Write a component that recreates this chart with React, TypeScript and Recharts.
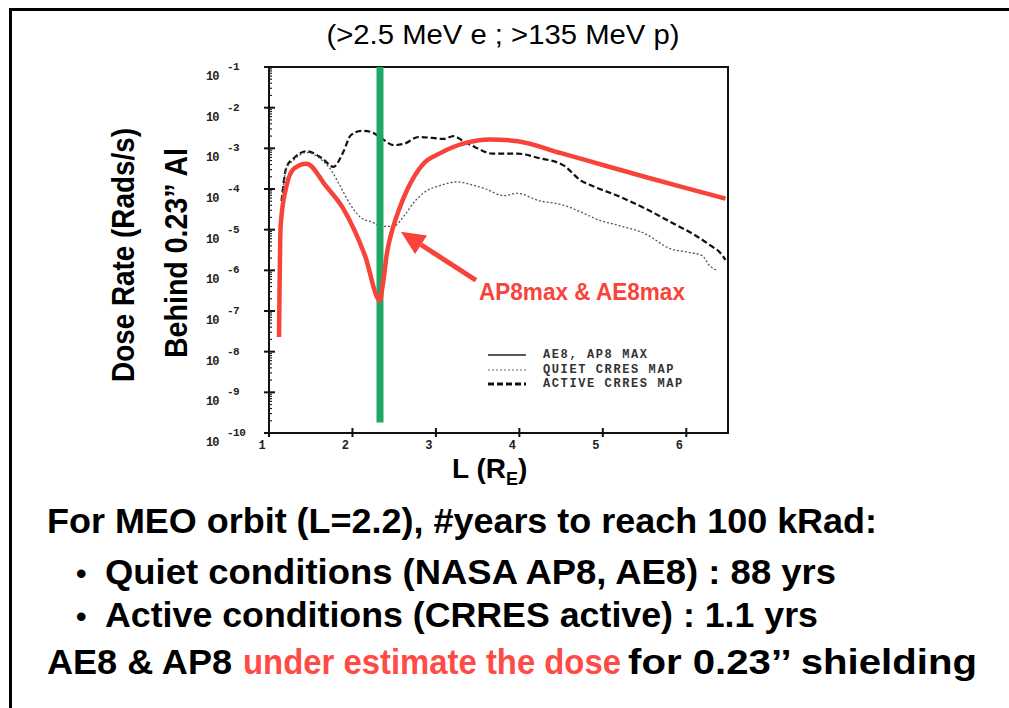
import React from "react"
import { LineChart, Line, XAxis, YAxis, ReferenceLine, ReferenceArea, Legend } from "recharts"

// L shell (Earth radii) vs dose rate (rads/s) behind 0.23" Al
const modelL = [1.12, 1.14, 1.21, 1.3, 1.45, 1.68, 1.89, 2.15, 2.33, 2.36, 2.42, 2.47, 2.56, 2.66, 2.85, 3.04, 3.38, 3.64, 3.98, 4.5, 5.0, 5.5, 6.0, 6.47]
const modelDose = [2.3e-8, 1.3e-5, 1.2e-4, 3.2e-4, 4.2e-4, 1.2e-4, 3.3e-5, 2.3e-6, 1.8e-7, 4e-7, 3.2e-6, 8.7e-6, 3.2e-5, 1.0e-4, 4.2e-4, 7.4e-4, 1.4e-3, 1.66e-3, 1.5e-3, 7.6e-4, 3.9e-4, 2.0e-4, 1.05e-4, 5.8e-5]

const activeL = [1.15, 1.21, 1.3, 1.45, 1.64, 1.77, 1.89, 1.98, 2.11, 2.23, 2.36, 2.49, 2.62, 2.79, 2.96, 3.09, 3.21, 3.34, 3.47, 3.68, 3.98, 4.23, 4.53, 4.74, 4.87, 5.17, 5.51, 5.81, 6.11, 6.32, 6.4, 6.47]
const activeDose = [5e-5, 3.5e-4, 5.8e-4, 8.5e-4, 5.6e-4, 3.5e-4, 8.1e-4, 2.1e-3, 2.7e-3, 2.5e-3, 1.7e-3, 1.2e-3, 1.3e-3, 1.9e-3, 1.8e-3, 1.7e-3, 2.0e-3, 1.45e-3, 1.07e-3, 7.4e-4, 7.4e-4, 5.8e-4, 3.8e-4, 1.6e-4, 1.2e-4, 6.9e-5, 3.3e-5, 1.55e-5, 7.2e-6, 3.7e-6, 2.8e-6, 1.8e-6]

const quietL = [1.15, 1.21, 1.3, 1.45, 1.64, 1.75, 1.85, 1.98, 2.11, 2.23, 2.36, 2.49, 2.62, 2.74, 2.87, 3.04, 3.26, 3.38, 3.6, 3.81, 3.98, 4.23, 4.53, 4.74, 4.96, 5.17, 5.51, 5.81, 6.02, 6.19, 6.28, 6.37]
const quietDose = [5e-5, 3.2e-4, 5.2e-4, 7.9e-4, 5e-4, 2.8e-4, 1.2e-4, 4e-5, 1.9e-5, 1.55e-5, 1.2e-5, 1.2e-5, 2.2e-5, 4.8e-5, 8.5e-5, 1.2e-4, 1.5e-4, 1.35e-4, 1.0e-4, 6.9e-5, 7.8e-5, 5.2e-5, 4e-5, 2.7e-5, 1.7e-5, 1.3e-5, 7.9e-6, 3.4e-6, 2.8e-6, 2.3e-6, 1.3e-6, 1e-6]

const xTicks = [1, 2, 3, 4, 5, 6]
const yTicks = [1e-10, 1e-9, 1e-8, 1e-7, 1e-6, 1e-5, 1e-4, 1e-3, 1e-2, 1e-1]
const minorSteps = [2, 3, 4, 5, 6, 7, 8, 9]
const legendNames = ["AE8, AP8 MAX", "QUIET CRRES MAP", "ACTIVE CRRES MAP"]

// MEO marker and arrow annotation (L, dose)
const meoL = 2.33
const meoRange = [1e-1, 1.8e-10]
const arrowTail = { L: 3.48, dose: 5.7e-7 }
const arrowTip = { L: 2.58, dose: 8.9e-6 }

const toRows = (ls: number[], ds: number[]) => ls.map((l, i) => ({ L: l, dose: ds[i] }))
const modelData = toRows(modelL, modelDose)
const activeData = toRows(activeL, activeDose)
const quietData = toRows(quietL, quietDose)

// decade ticks plus log minor ticks
const allYTicks = [
  ...yTicks,
  ...yTicks.slice(0, -1).flatMap((d) => minorSteps.map((m) => m * d)),
]

const RED = "#f8433a"
const GREEN = "#1fa865"
const SANS = "'Liberation Sans', Arial, Helvetica, sans-serif"
const MONO = "'Liberation Mono', 'DejaVu Sans Mono', monospace"

const isDecade = (v: number) => Math.abs(Math.log10(v) - Math.round(Math.log10(v))) < 1e-6

const YTick = (props: any) => {
  const { x, y, payload } = props
  if (!isDecade(payload.value)) {
    return <line x1={x} x2={x + 3} y1={y} y2={y} stroke="#222" strokeWidth={1.2} />
  }
  const exp = Math.round(Math.log10(payload.value))
  return (
    <g>
      <line x1={x - 5} x2={x + 6} y1={y} y2={y} stroke="#111" strokeWidth={2} />
      <text x={x - 63} y={y + 13} fontFamily={MONO} fontSize={12} fontWeight="bold" fill="#222" letterSpacing={-1}>10</text>
      <text x={x - 42} y={y + 3} fontFamily={MONO} fontSize={11} fontWeight="bold" fill="#222" letterSpacing={-0.5}>{exp}</text>
    </g>
  )
}

const RightTick = (props: any) => {
  const { x, y, payload } = props
  const len = isDecade(payload.value) ? 6 : 3
  return <line x1={x - len} x2={x} y1={y} y2={y} stroke="#222" strokeWidth={isDecade(payload.value) ? 2 : 1.2} />
}

const XTick = (props: any) => {
  const { x, y, payload } = props
  return (
    <g>
      <line x1={x} x2={x} y1={y - 5} y2={y + 4} stroke="#111" strokeWidth={2} />
      <text x={x - 7} y={y + 16} textAnchor="middle" fontFamily={MONO} fontSize={12} fontWeight="bold" fill="#222">
        {payload.value}
      </text>
    </g>
  )
}

const TopTick = (props: any) => {
  const { x, y } = props
  return <line x1={x} x2={x} y1={y} y2={y + 6} stroke="#222" strokeWidth={2} />
}

const Arrow = (props: any) => {
  const { x1, y1, x2, y2 } = props
  const ang = Math.atan2(y2 - y1, x2 - x1)
  const head = 24
  const half = 11
  const bx = x2 - head * Math.cos(ang)
  const by = y2 - head * Math.sin(ang)
  const px = -Math.sin(ang) * half
  const py = Math.cos(ang) * half
  return (
    <g>
      <line x1={x1} y1={y1} x2={bx} y2={by} stroke={RED} strokeWidth={5} />
      <polygon points={`${x2},${y2} ${bx + px},${by + py} ${bx - px},${by - py}`} fill={RED} />
      <text x={x1 + 3} y={y1 + 20} fontFamily={SANS} fontWeight="bold" fontSize={23} fill={RED}
        textLength={206} lengthAdjust="spacingAndGlyphs">
        AP8max &amp; AE8max
      </text>
    </g>
  )
}

const renderLegend = () => {
  const styles = [
    { dash: undefined, w: 1.5, c: "#222" },
    { dash: "2 2", w: 1.2, c: "#666" },
    { dash: "6 3", w: 3, c: "#111" },
  ]
  return (
    <div style={{ fontFamily: MONO, fontSize: 12, fontWeight: "bold", color: "#333", letterSpacing: 1.6 }}>
      {legendNames.map((n, i) => (
        <div key={n} style={{ display: "flex", alignItems: "center", height: 14.5 }}>
          <svg width={40} height={10} style={{ marginRight: 16 }}>
            <line x1={1} x2={39} y1={5} y2={5} stroke={styles[i].c} strokeWidth={styles[i].w} strokeDasharray={styles[i].dash} />
          </svg>
          <span>{n}</span>
        </div>
      ))}
    </div>
  )
}

export default function App() {
  return (
    <div style={{ position: "absolute", left: 0, top: 0, width: 1009, height: 708, background: "#fff", overflow: "hidden" }}>
      <div style={{ position: "absolute", left: 9, top: 8, width: 1000, height: 3, background: "#000" }} />
      <div style={{ position: "absolute", left: 9, top: 8, width: 3, height: 700, background: "#000" }} />
      <div style={{ position: "absolute", left: 0, top: 0 }}>
        <LineChart width={1009} height={708} margin={{ top: 67, right: 281, bottom: 245, left: 209 }}>
          <XAxis dataKey="L" type="number" domain={[1, 6.5]} ticks={xTicks} allowDataOverflow height={30}
            axisLine={false} tickLine={false} tickSize={0} tickMargin={0} tick={<XTick />} />
          <XAxis xAxisId="top" orientation="top" dataKey="L" type="number" domain={[1, 6.5]} ticks={xTicks} allowDataOverflow height={0}
            axisLine={false} tickLine={false} tickSize={0} tickMargin={0} tick={<TopTick />} />
          <YAxis type="number" scale="log" domain={[1e-10, 1e-1]} ticks={allYTicks} interval={0} allowDataOverflow width={60}
            axisLine={false} tickLine={false} tickSize={0} tickMargin={0} tick={<YTick />} />
          <YAxis yAxisId="right" orientation="right" type="number" scale="log" domain={[1e-10, 1e-1]} ticks={yTicks} interval={0} allowDataOverflow width={0}
            axisLine={false} tickLine={false} tickSize={0} tickMargin={0} tick={<RightTick />} />
          <ReferenceArea x1={1} x2={6.5} y1={1e-10} y2={1e-1} fill="none" stroke="#111" strokeWidth={2} fillOpacity={0} />
          <Line data={activeData} dataKey="dose" type="monotone" stroke="#111" strokeWidth={2.2}
            strokeDasharray="6 3" dot={false} activeDot={false} isAnimationActive={false} />
          <Line data={quietData} dataKey="dose" type="monotone" stroke="#555" strokeWidth={1.3}
            strokeDasharray="2 2" dot={false} activeDot={false} isAnimationActive={false} />
          <ReferenceLine segment={[{ x: meoL, y: meoRange[0] }, { x: meoL, y: meoRange[1] }]} stroke={GREEN} strokeWidth={7} />
          <Line data={modelData} dataKey="dose" type="monotone" stroke={RED} strokeWidth={4.5}
            dot={false} activeDot={false} isAnimationActive={false} />
          <ReferenceLine segment={[{ x: arrowTail.L, y: arrowTail.dose }, { x: arrowTip.L, y: arrowTip.dose }]}
            shape={<Arrow />} />
          <Legend verticalAlign="middle" align="center" layout="horizontal" content={renderLegend}
            wrapperStyle={{ position: "absolute", left: 487, top: 348, width: 230, height: 46 }} />
        </LineChart>
      </div>
      <svg width={1009} height={708} style={{ position: "absolute", left: 0, top: 0, pointerEvents: "none" }}>
        <text x={503} y={44} textAnchor="middle" fontFamily={SANS} fontSize={27} textLength={353} lengthAdjust="spacingAndGlyphs">
          (&gt;2.5 MeV e ; &gt;135 MeV p)
        </text>
        <text transform="rotate(-90)" x={-255} y={134} textAnchor="middle" fontFamily={SANS} fontWeight="bold" fontSize={31}
          textLength={254} lengthAdjust="spacingAndGlyphs">
          Dose Rate (Rads/s)
        </text>
        <text transform="rotate(-90)" x={-253} y={187} textAnchor="middle" fontFamily={SANS} fontWeight="bold" fontSize={31}
          textLength={210} lengthAdjust="spacingAndGlyphs">
          Behind 0.23” Al
        </text>
        <text x={452} y={478} fontFamily={SANS} fontWeight="bold" fontSize={28}>
          L (R<tspan fontSize={18} dy={7}>E</tspan><tspan dy={-7}>)</tspan>
        </text>
        <g fontFamily={SANS} fontWeight="bold" fontSize={35} fill="#000">
          <text x={47} y={533} textLength={830} lengthAdjust="spacingAndGlyphs">For MEO orbit (L=2.2), #years to reach 100 kRad:</text>
          <text x={76} y={584} fontSize={30}>•</text>
          <text x={105} y={584} textLength={731} lengthAdjust="spacingAndGlyphs">Quiet conditions (NASA AP8, AE8) :  88 yrs</text>
          <text x={76} y={627} fontSize={30}>•</text>
          <text x={105} y={627} textLength={713} lengthAdjust="spacingAndGlyphs">Active conditions (CRRES active) : 1.1 yrs</text>
          <text x={47} y={674} textLength={185} lengthAdjust="spacingAndGlyphs">AE8 &amp; AP8</text>
          <text x={243} y={674} textLength={378} lengthAdjust="spacingAndGlyphs" fill="#ff4a45">under estimate the dose</text>
          <text x={628} y={674} textLength={349} lengthAdjust="spacingAndGlyphs">for 0.23’’ shielding</text>
        </g>
      </svg>
    </div>
  )
}
